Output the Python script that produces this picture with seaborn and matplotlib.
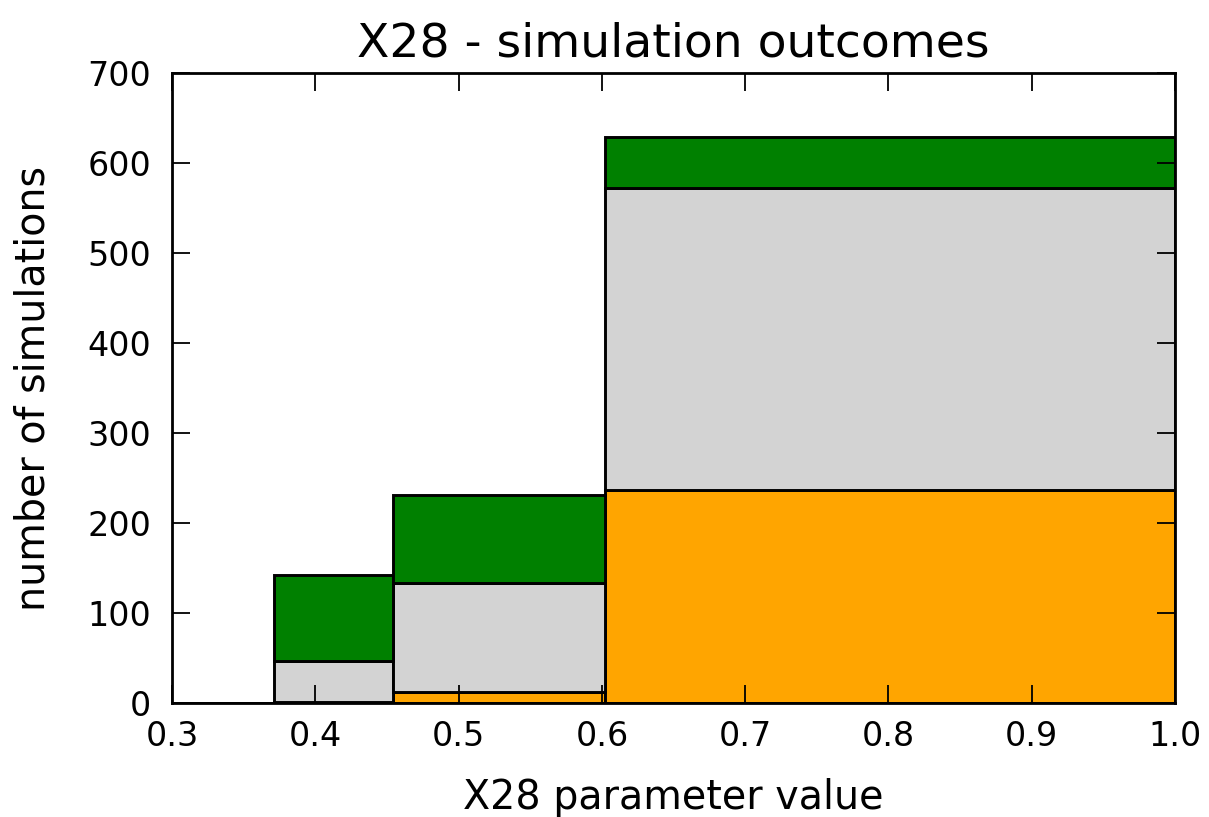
import numpy as np
import pandas as pd
import seaborn as sns
import matplotlib
matplotlib.use("Agg")
import matplotlib.pyplot as plt

# Bin edges of the X28 parameter and simulation counts per outcome in each bin
bin_edges = [0.3, 0.371, 0.454, 0.602, 1.0]
outcomes = ["outcome A", "outcome B", "outcome C"]
counts_a = [0, 1, 12, 237]      # bottom layer (orange)
counts_b = [0, 46, 121, 335]    # middle layer (light grey)
counts_c = [0, 95, 98, 57]      # top layer (green)
layer_colors = {"outcome A": "orange", "outcome B": "lightgrey", "outcome C": "green"}

centers = [(lo + hi) / 2 for lo, hi in zip(bin_edges[:-1], bin_edges[1:])]
rows = []
for name, vals in zip(outcomes, [counts_a, counts_b, counts_c]):
    for c, v in zip(centers, vals):
        rows.append({"x": c, "n": v, "outcome": name})
df = pd.DataFrame(rows)

sns.set_style("white")
plt.rcParams["font.family"] = ["DejaVu Sans"]
plt.rcParams["text.color"] = "black"
plt.rcParams["axes.labelcolor"] = "black"

fig = plt.figure(figsize=(12.09, 8.17), dpi=100)
ax = fig.add_axes([0.1423, 0.1395, 0.8296, 0.7711])

sns.histplot(
    data=df, x="x", weights="n", hue="outcome",
    hue_order=outcomes[::-1], palette=layer_colors,
    bins=bin_edges, multiple="stack", element="bars",
    edgecolor="black", linewidth=2.1, alpha=1, legend=False, ax=ax,
)

ax.set_axisbelow(False)
ax.set_xlim(0.3, 1.0)
ax.set_ylim(0, 700)
ax.set_xticks(np.arange(0.3, 1.01, 0.1))
ax.set_xticklabels(["0.3", "0.4", "0.5", "0.6", "0.7", "0.8", "0.9", "1.0"])
ax.set_yticks(range(0, 701, 100))
ax.tick_params(direction="in", top=True, right=True, bottom=True, left=True,
               length=13, width=1.3, labelsize=24, colors="black")
ax.tick_params(axis="x", pad=12)
ax.tick_params(axis="y", pad=15)
for s in ax.spines.values():
    s.set_color("black")
    s.set_linewidth(2)
    s.set_zorder(3)

ax.set_title("X28 - simulation outcomes", fontsize=34, pad=12)
ax.set_xlabel("X28 parameter value", fontsize=28.5, labelpad=18)
ax.set_ylabel("number of simulations", fontsize=28.5, labelpad=24)

fig.savefig("out.png", dpi=100)
